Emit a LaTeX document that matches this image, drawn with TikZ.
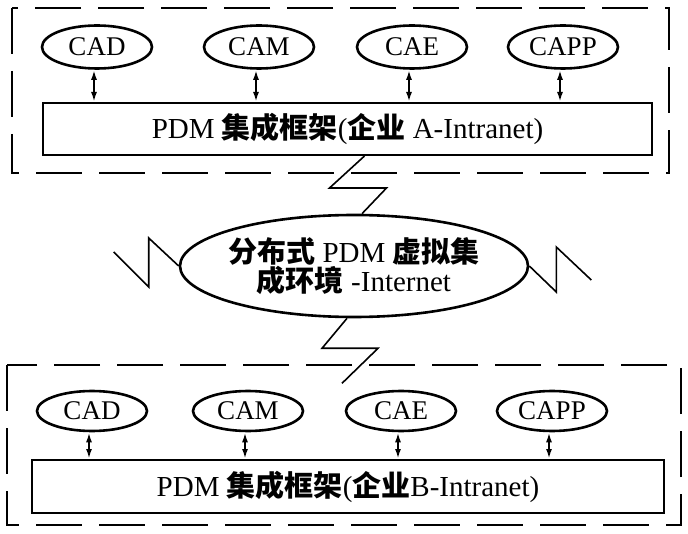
\documentclass[tikz,border=0pt]{standalone}
\usepackage{fontspec}
\setmainfont{Liberation Serif}
\newfontfamily\cjk{Noto Sans CJK SC}
\usetikzlibrary{arrows.meta, shapes.geometric, positioning}

\begin{document}
\begin{tikzpicture}[
    x=1pt, y=-1pt, % pixel-like units, y pointing down
    >={Latex[length=10pt,width=6pt]}, % Set default arrow tip style
    app/.style={draw, ellipse, line width=2.6pt, inner sep=0pt,
        minimum width=110pt, minimum height=43pt, font=\fontsize{27}{30}\selectfont}, % CAD, CAM, ...
    frame/.style={draw, rectangle, line width=2pt, inner sep=0pt,
        font=\fontsize{29}{30}\selectfont}, % PDM integration box
    zone/.style={line width=2.6pt, dash pattern=on 46pt off 17pt}, % enterprise boundary
    link/.style={<->, line width=2pt}, % app to framework
    bolt/.style={line width=1.6pt, line join=miter} % network links
]

    % Fix the page to the reference size
    \useasboundingbox (0,0) rectangle (688,534);

    % Enterprise A
    \draw[zone] (12,8) rectangle (669,173);
    \node[app] (cadA)  at (97,47)  {CAD};
    \node[app] (camA)  at (259,47) {CAM};
    \node[app] (caeA)  at (412,47) {CAE};
    \node[app] (cappA) at (563,47) {CAPP};
    \node[frame, minimum width=609pt, minimum height=52pt] (pdmA) at (347.5,129)
        {PDM {\cjk\bfseries 集成框架}({\cjk\bfseries 企业} A-Intranet)};

    % Enterprise B
    \draw[zone] (7,365) rectangle (681,525);
    \node[app, minimum height=40pt] (cadB)  at (92,411)  {CAD};
    \node[app, minimum height=40pt] (camB)  at (248,411) {CAM};
    \node[app, minimum height=40pt] (caeB)  at (401,411) {CAE};
    \node[app, minimum height=40pt] (cappB) at (552,411) {CAPP};
    \node[frame, minimum width=632pt, minimum height=53pt] (pdmB) at (348,486.5)
        {PDM {\cjk\bfseries 集成框架}({\cjk\bfseries 企业}B-Intranet)};

    % Apps to framework
    \foreach \a/\b in {cadA/pdmA, camA/pdmA, caeA/pdmA, cappA/pdmA,
                       cadB/pdmB, camB/pdmB, caeB/pdmB, cappB/pdmB}
        \draw[link] ([xshift=-3pt]\a.south) -- ([xshift=-3pt]\a.south |- \b.north);

    % Internet environment
    \node[app, minimum width=348pt, minimum height=102pt, align=center, inner xsep=-6pt,
          font=\fontsize{29}{29}\selectfont] (inet) at (354,266)
        {{\cjk\bfseries 分布式} PDM {\cjk\bfseries 虚拟集}\\{\cjk\bfseries 成环境} -Internet};

    % Lightning links
    \draw[bolt] ([xshift=17pt]pdmA.south) -- ++(-35,32) -- ++(57,0) -- ([xshift=8pt]inet.north);
    \draw[bolt] ([xshift=-7pt]inet.south) -- ++(-25,30) -- ++(56,0) -- ++(-36,35) coordinate (boltB);
    \draw[bolt] (inet.west) -- ++(-30,-28) -- ++(0,49) -- ++(-35,-35) coordinate (boltL);
    \draw[bolt] (inet.east) -- ++(27,26) -- ++(0,-45) -- ++(35,33) coordinate (boltR);

\end{tikzpicture}
\end{document}
